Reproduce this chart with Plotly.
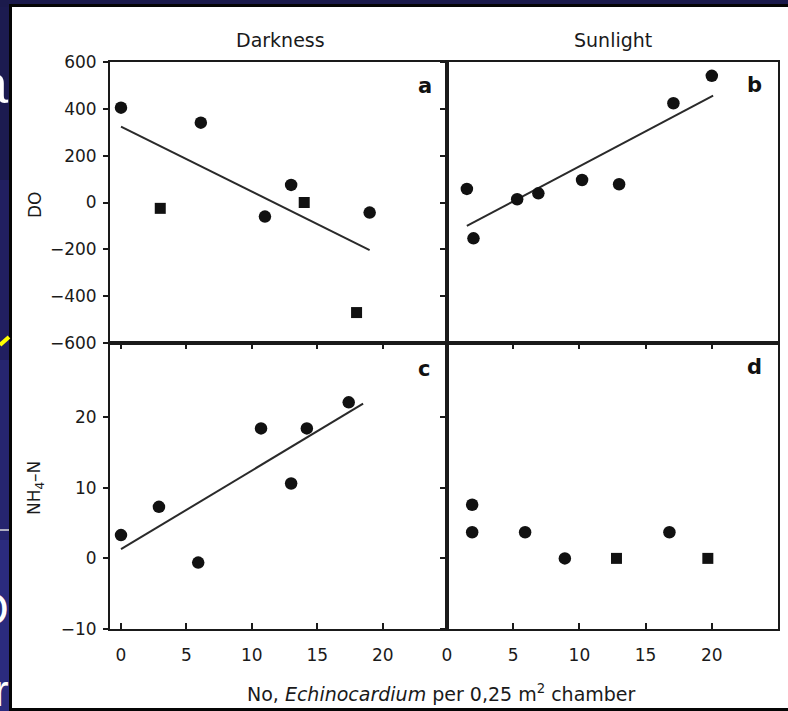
import plotly.graph_objects as go

W, H = 788, 711

# ---------------- data ----------------
# Panel a: Darkness, DO
dark_do_circle_x = [0.0, 6.1, 11.0, 13.0, 19.0]
dark_do_circle_y = [405, 341, -60, 75, -43]
dark_do_square_x = [3.0, 14.0, 18.0]
dark_do_square_y = [-25, 0, -470]
dark_do_fit_x = [0.0, 19.0]
dark_do_fit_y = [324, -203]

# Panel b: Sunlight, DO
sun_do_x = [1.5, 2.0, 5.3, 6.9, 10.2, 13.0, 17.1, 20.0]
sun_do_y = [58, -153, 14, 39, 96, 78, 424, 541]
sun_do_fit_x = [1.5, 20.1]
sun_do_fit_y = [-100, 456]

# Panel c: Darkness, NH4-N
dark_nh_x = [0.0, 2.9, 5.9, 10.7, 13.0, 14.2, 17.4]
dark_nh_y = [3.3, 7.3, -0.6, 18.4, 10.6, 18.4, 22.1]
dark_nh_fit_x = [0.0, 18.5]
dark_nh_fit_y = [1.3, 21.9]

# Panel d: Sunlight, NH4-N
sun_nh_circle_x = [1.9, 1.9, 5.9, 8.9, 16.8]
sun_nh_circle_y = [7.6, 3.7, 3.7, 0.0, 3.7]
sun_nh_square_x = [12.8, 19.7]
sun_nh_square_y = [0.0, 0.0]

x_ticks = [0, 5, 10, 15, 20]
do_ticks = [-600, -400, -200, 0, 200, 400, 600]
nh_ticks = [-10, 0, 10, 20]

column_titles = ["Darkness", "Sunlight"]
panel_letters = ["a", "b", "c", "d"]
x_title = "No, <i>Echinocardium</i> per 0,25 m<sup>2</sup> chamber"
y_titles = ["DO", "NH<sub>4</sub>–N"]


def px(x):
    return x / W


def py(y):
    return 1 - y / H


FONT = "DejaVu Sans"
INK = "#1a1a1a"

fig = go.Figure()

circle = dict(symbol="circle", size=12.5, color="#111111", line=dict(width=0))
square = dict(symbol="square", size=11, color="#111111", line=dict(width=0))
fitline = dict(color="#2a2a2a", width=2)

# panel a
fig.add_trace(go.Scatter(x=dark_do_fit_x, y=dark_do_fit_y, mode="lines", line=fitline, xaxis="x", yaxis="y"))
fig.add_trace(go.Scatter(x=dark_do_circle_x, y=dark_do_circle_y, mode="markers", marker=circle, xaxis="x", yaxis="y"))
fig.add_trace(go.Scatter(x=dark_do_square_x, y=dark_do_square_y, mode="markers", marker=square, xaxis="x", yaxis="y"))
# panel b
fig.add_trace(go.Scatter(x=sun_do_fit_x, y=sun_do_fit_y, mode="lines", line=fitline, xaxis="x2", yaxis="y2"))
fig.add_trace(go.Scatter(x=sun_do_x, y=sun_do_y, mode="markers", marker=circle, xaxis="x2", yaxis="y2"))
# panel c
fig.add_trace(go.Scatter(x=dark_nh_fit_x, y=dark_nh_fit_y, mode="lines", line=fitline, xaxis="x3", yaxis="y3"))
fig.add_trace(go.Scatter(x=dark_nh_x, y=dark_nh_y, mode="markers", marker=circle, xaxis="x3", yaxis="y3"))
# panel d
fig.add_trace(go.Scatter(x=sun_nh_circle_x, y=sun_nh_circle_y, mode="markers", marker=circle, xaxis="x4", yaxis="y4"))
fig.add_trace(go.Scatter(x=sun_nh_square_x, y=sun_nh_square_y, mode="markers", marker=square, xaxis="x4", yaxis="y4"))

L0, LM, R1 = 110, 447, 778
T0, TM, B1 = 62, 343, 629

dom_left = [px(L0), px(LM)]
dom_right = [px(LM), px(R1)]
dom_top = [py(TM), py(T0)]
dom_bot = [py(B1), py(TM)]

tickfont = dict(family=FONT, size=17, color=INK)
base = dict(showline=True, linecolor=INK, linewidth=2, mirror=True, showgrid=False, automargin=False,
            zeroline=False, tickcolor=INK, tickwidth=1.5, tickfont=tickfont)

fig.update_layout(
    xaxis=dict(base, domain=dom_left, anchor="y", range=[-0.84, 24.91], tickvals=x_ticks,
               ticks="outside", ticklen=4, showticklabels=False),
    xaxis2=dict(base, domain=dom_right, anchor="y2", range=[0, 25.0], tickvals=x_ticks,
                ticks="outside", ticklen=4, showticklabels=False),
    xaxis3=dict(base, domain=dom_left, anchor="y3", range=[-0.84, 24.91], tickvals=x_ticks,
                ticks="inside", ticklen=6, ticklabelstandoff=10),
    xaxis4=dict(base, domain=dom_right, anchor="y4", range=[0, 25.0], tickvals=x_ticks,
                ticks="inside", ticklen=6, ticklabelstandoff=10),
    yaxis=dict(base, domain=dom_top, anchor="x", range=[-600, 600], tickvals=do_ticks,
               ticks="outside", ticklen=5, ticklabelstandoff=3),
    yaxis2=dict(base, domain=dom_top, anchor="x2", range=[-600, 600], tickvals=do_ticks,
                ticks="outside", ticklen=5, showticklabels=False),
    yaxis3=dict(base, domain=dom_bot, anchor="x3", range=[-10, 30.5], tickvals=nh_ticks,
                ticks="outside", ticklen=5, ticklabelstandoff=3),
    yaxis4=dict(base, domain=dom_bot, anchor="x4", range=[-10, 30.5], tickvals=nh_ticks,
                ticks="outside", ticklen=5, showticklabels=False),
)

# ---------------- slide background and white panel ----------------
shapes = []
bands = [(0, 180, "#1c1b50"), (180, 360, "#211f60"), (360, 540, "#26256f"), (540, 711, "#2b2b7e")]
for y0, y1, c in bands:
    shapes.append(dict(type="rect", xref="paper", yref="paper", x0=0, x1=px(12), y0=py(y1), y1=py(y0),
                       fillcolor=c, line=dict(width=0), layer="below"))
shapes.append(dict(type="rect", xref="paper", yref="paper", x0=0, x1=1, y0=py(7), y1=1,
                   fillcolor="#1b1a4c", line=dict(width=0), layer="below"))
shapes.append(dict(type="rect", xref="paper", yref="paper", x0=px(10.5), x1=px(800), y0=py(709.5), y1=py(5.5),
                   fillcolor="white", line=dict(color="#050505", width=3), layer="below"))
# slide fragments at left edge
shapes.append(dict(type="line", xref="paper", yref="paper", x0=0, x1=px(9), y0=py(345), y1=py(337),
                   line=dict(color="#ffff00", width=4), layer="above"))
shapes.append(dict(type="line", xref="paper", yref="paper", x0=0, x1=px(9), y0=py(530), y1=py(530),
                   line=dict(color="#dcdcdc", width=1.5), layer="above"))
fig.update_layout(shapes=shapes)

ann = []
# column titles
for t, xc in zip(column_titles, [280, 613]):
    ann.append(dict(text=t, x=px(xc), y=py(40), xref="paper", yref="paper", showarrow=False,
                    xanchor="center", yanchor="middle", font=dict(family=FONT, size=19, color=INK)))
# panel letters
for t, (xc, yc) in zip(panel_letters, [(425, 86), (754, 85), (424, 369), (754, 367)]):
    ann.append(dict(text="<b>%s</b>" % t, x=px(xc), y=py(yc), xref="paper", yref="paper", showarrow=False,
                    xanchor="center", yanchor="middle", font=dict(family=FONT, size=21, color="#111")))
# y titles
for t, yc in zip(y_titles, [205, 488]):
    ann.append(dict(text=t, x=px(35), y=py(yc), xref="paper", yref="paper", showarrow=False, textangle=-90,
                    xanchor="center", yanchor="middle", font=dict(family=FONT, size=17, color=INK)))
# x title
ann.append(dict(text=x_title, x=px(442), y=py(693), xref="paper", yref="paper", showarrow=False,
                xanchor="center", yanchor="middle", font=dict(family=FONT, size=19, color=INK)))
# slide text fragments (cut off by the panel)
for t, yc, s in [("a", 83, 56), ("O", 609, 46), ("r", 690, 44)]:
    ann.append(dict(text=t, x=px(10), y=py(yc), xref="paper", yref="paper", showarrow=False, borderpad=0,
                    xanchor="right", yanchor="middle", font=dict(family="Liberation Sans", size=s, color="white")))
fig.update_layout(annotations=ann)

fig.update_layout(
    width=W, height=H, margin=dict(l=0, r=0, t=0, b=0, pad=0, autoexpand=False),
    paper_bgcolor="#22216a", plot_bgcolor="rgba(0,0,0,0)",
    showlegend=False, hovermode=False,
)

# the page's default 8px body margin would shift the figure; remove it
page_css = ("document.documentElement.style.margin='0';document.body.style.margin='0';"
            "document.body.style.overflow='hidden';document.body.style.background='#22216a';")
fig.write_html("out.html", post_script=page_css, config={"displayModeBar": False})
